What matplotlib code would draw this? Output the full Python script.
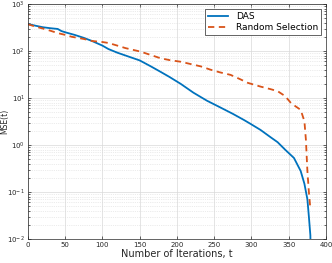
import matplotlib
matplotlib.use("Agg")
import matplotlib.pyplot as plt
from matplotlib.ticker import LogLocator, NullFormatter

# DAS curve
t_das = [0, 10, 20, 30, 40, 45, 50, 63, 75, 86, 100, 108, 120, 131, 150, 165,
         178, 190, 205, 222, 240, 259, 275, 290, 299, 312, 326, 335, 345, 357,
         366, 371, 375, 377, 379, 380]
mse_das = [375, 345, 320, 305, 294, 265, 250, 219, 190, 163, 130, 110, 92, 80,
           63, 47, 36, 28, 20, 13, 8.8, 6.2, 4.6, 3.4, 2.8, 2.1, 1.45, 1.15,
           0.8, 0.53, 0.28, 0.15, 0.07, 0.03, 0.012, 0.001]

# Random Selection curve
t_rand = [0, 10, 19, 30, 40, 50, 59, 75, 86, 100, 108, 120, 131, 151, 165, 178,
          190, 205, 220, 232, 245, 258, 272, 285, 295, 312, 325, 335, 345, 353,
          360, 366, 371, 373, 375, 377, 379]
mse_rand = [370, 330, 303, 270, 240, 220, 200, 180, 163, 155, 148, 130, 115, 97,
            82, 70, 64, 59, 52, 47, 40, 35, 31, 25, 21, 17.5, 15.5, 14, 11, 7.8,
            6.5, 5.6, 3.2, 1.3, 0.28, 0.1, 0.044]

xticks = [0, 50, 100, 150, 200, 250, 300, 350, 400]

fig = plt.figure(figsize=(3.32, 2.63), dpi=100)
ax = fig.add_axes([0.084, 0.091, 0.898, 0.894])

ax.semilogy(t_das, mse_das, color="#0072BD", lw=1.3, label="DAS")
ax.semilogy(t_rand, mse_rand, color="#D95319", lw=1.3, ls=(0, (3.5, 2.5)),
            label="Random Selection")

ax.set_xlim(0, 400)
ax.set_ylim(1e-2, 1e3)
ax.set_xticks(xticks)
ax.yaxis.set_major_locator(LogLocator(base=10, numticks=10))
ax.yaxis.set_minor_locator(LogLocator(base=10, subs=range(2, 10), numticks=20))
ax.yaxis.set_minor_formatter(NullFormatter())

ax.grid(which="major", color="#d9d9d9", lw=0.5)
ax.grid(which="minor", axis="y", color="#d9d9d9", lw=0.5, ls=":")
ax.set_axisbelow(True)

ax.tick_params(which="both", direction="in", labelsize=5, colors="#262626",
               top=True, right=True, length=2.5, width=0.5, pad=2)
ax.tick_params(which="minor", length=1.5)
for s in ax.spines.values():
    s.set_color("#262626")
    s.set_linewidth(0.5)

ax.set_xlabel("Number of Iterations, t", fontsize=7, color="#262626", labelpad=1)
ax.set_ylabel("MSE(t)", fontsize=5.5, color="#262626")
ax.yaxis.set_label_coords(-0.062, 0.5)

leg = ax.legend(loc="upper right", fontsize=6.5, fancybox=False, framealpha=1,
                edgecolor="#262626", borderpad=0.3, handlelength=2.3,
                labelspacing=0.2, borderaxespad=0.6)
leg.get_frame().set_linewidth(0.5)

fig.savefig("out.png", dpi=100)
